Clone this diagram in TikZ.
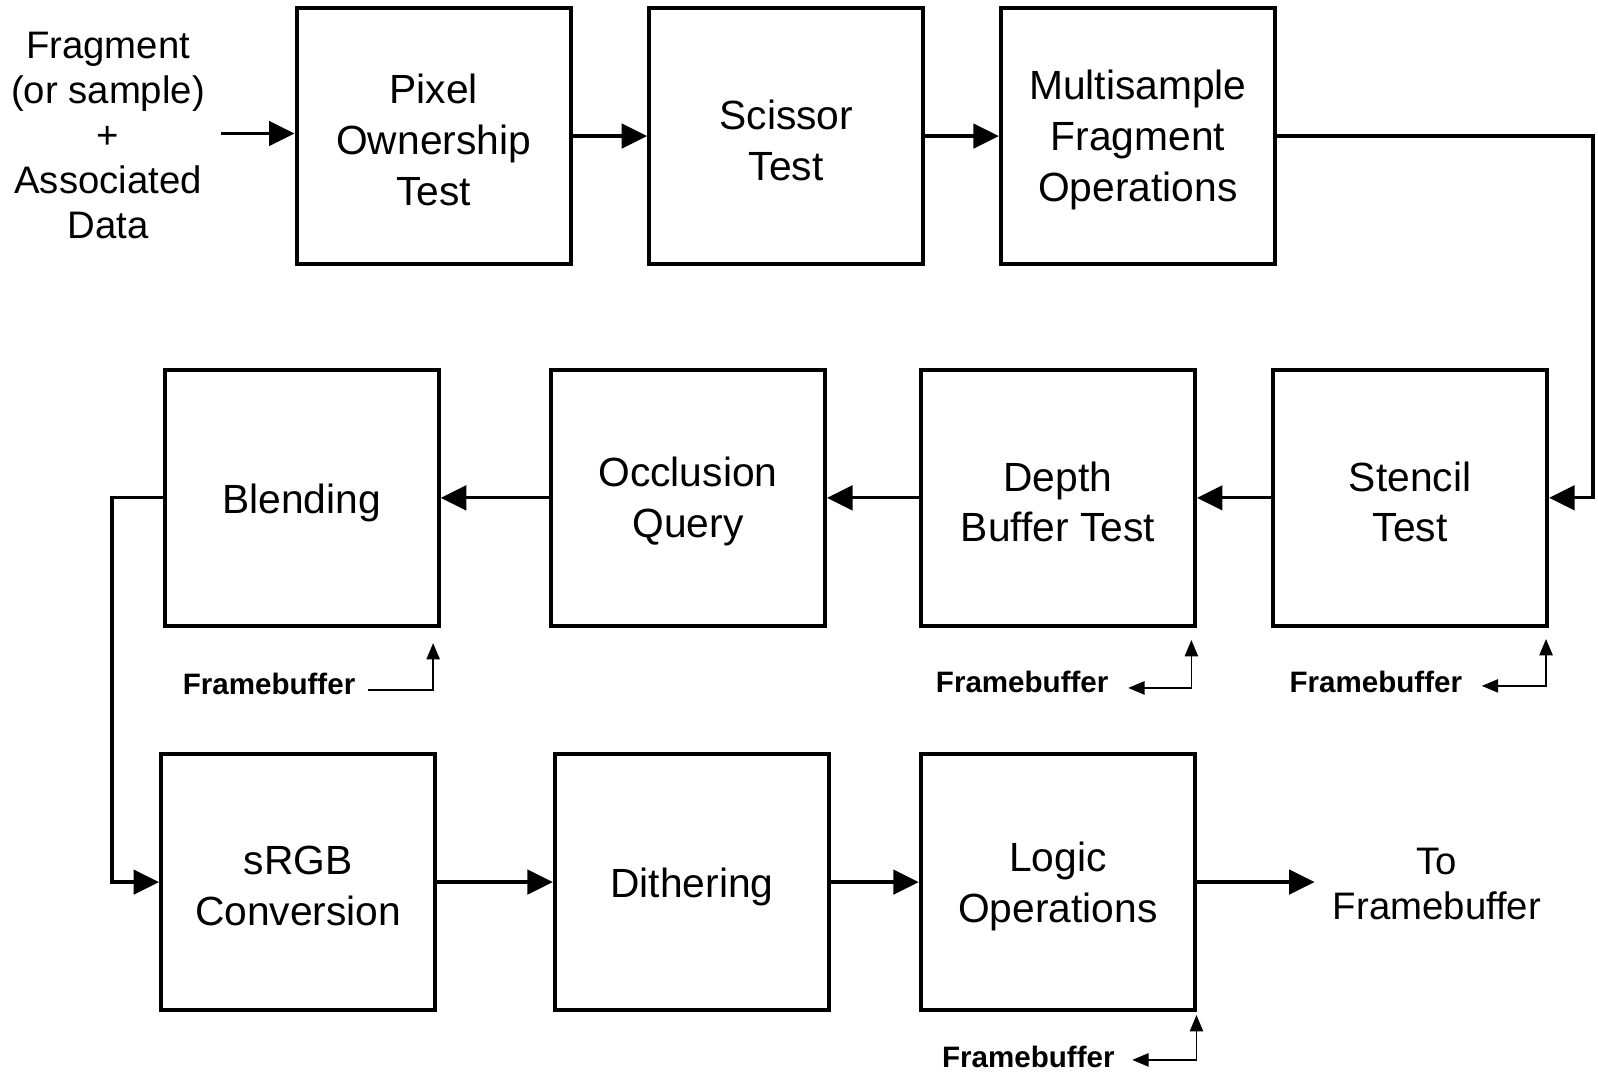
\documentclass[tikz,border=0pt]{standalone}
\usepackage{fontspec}
\setmainfont{Liberation Sans}
\usetikzlibrary{arrows.meta}
\tikzset{fbtip/.tip={Triangle[length=8pt,width=6.5pt]}}
\begin{document}
\begin{tikzpicture}[x=0.5pt,y=-0.5pt,
  stagebox/.style={draw,line width=2pt,minimum width=134.5pt,minimum height=125.5pt,inner sep=0pt},
  boxtext/.style={inner sep=0pt,align=center,font=\fontsize{20}{25}\selectfont},
  sidetext/.style={align=center,inner sep=0pt,font=\fontsize{18.8}{22}\selectfont},
  fbtext/.style={inner sep=0pt,font=\fontsize{14.5}{17}\selectfont\bfseries},
  conn/.style={line width=1.6pt,-{Triangle[length=12.5pt,width=12pt]}},
  fbline/.style={line width=0.8pt}
]
\useasboundingbox (0,0) rectangle (1568,1051);
% boxes
\node[stagebox] (pix) at (425.5,133.5) {};
\node[stagebox] (sci) at (771.5,133.5) {};
\node[stagebox] (msa) at (1116.5,133.5) {};
\node[stagebox] (sten) at (1383.5,488.5) {};
\node[stagebox] (dep) at (1038,488.5) {};
\node[stagebox] (occ) at (675,488.5) {};
\node[stagebox] (blend) at (296,488.5) {};
\node[stagebox] (srgb) at (292.5,865.5) {};
\node[stagebox] (dith) at (679,865.5) {};
\node[stagebox] (logic) at (1038,865.5) {};
% box texts
\node[boxtext] (pixt) at ([yshift=-2pt]pix.center) {Pixel\\Ownership\\Test};
\node[boxtext] (scit) at ([yshift=-2pt]sci.center) {Scissor\\Test};
\node[boxtext] (msat) at ([yshift=-2pt]msa.center) {Multisample\\Fragment\\Operations};
\node[boxtext] (stent) at ([yshift=-2pt]sten.center) {Stencil\\Test};
\node[boxtext] (dept) at ([yshift=-2pt]dep.center) {Depth\\Buffer Test};
\node[boxtext] (occt) at ([yshift=-2pt]occ.center) {Occlusion\\Query};
\node[boxtext] (blendt) at ([yshift=-2.5pt]blend.center) {Blending};
\node[boxtext] (srgbt) at ([yshift=-2pt]srgb.center) {sRGB\\Conversion};
\node[boxtext] (ditht) at ([yshift=-2.5pt]dith.center) {Dithering};
\node[boxtext] (logict) at ([yshift=-2pt]logic.center) {Logic\\Operations};
% side texts
\node[sidetext] (input) at (106,133) {Fragment\\(or sample)\\+\\Associated\\Data};
\node[sidetext] (out) at (1410,867) {To\\Framebuffer};
% coordinates
\coordinate (instart) at (217,131);
\coordinate (rx) at (1563,300);
\coordinate (lx) at (110,700);
\coordinate (outtip) at (1290,865.5);
% connectors
\draw[conn] (instart) -- (instart -| pix.west);
\draw[conn] (pix.east) -- (sci.west);
\draw[conn] (sci.east) -- (msa.west);
\draw[conn] (msa.east) -| (rx) |- (sten.east);
\draw[conn] (sten.west) -- (dep.east);
\draw[conn] (dep.west) -- (occ.east);
\draw[conn] (occ.west) -- (blend.east);
\draw[conn] (blend.west) -| (lx) |- (srgb.west);
\draw[conn] (srgb.east) -- (dith.west);
\draw[conn] (dith.east) -- (logic.west);
\draw[conn] (logic.east) -- (outtip);
% framebuffer labels
\node[fbtext,anchor=base east] (fb1) at (349,681) {Framebuffer};
\node[fbtext,anchor=base east] (fb2) at (1088,679) {Framebuffer};
\node[fbtext,anchor=base east] (fb3) at (1435,679) {Framebuffer};
\node[fbtext,anchor=base east] (fb4) at (1094,1047) {Framebuffer};
\coordinate (fb1a) at (361,677);
\coordinate (fb1b) at (425,631);
\coordinate (fb2a) at (1107,675);
\coordinate (fb2b) at (1169,628);
\coordinate (fb3a) at (1454,673);
\coordinate (fb3b) at (1517,627);
\coordinate (fb4a) at (1111,1040);
\coordinate (fb4b) at (1174,996);
\draw[fbline,-fbtip] (fb1a) -| (fb1b);
\draw[fbline,fbtip-fbtip] (fb2a) -| (fb2b);
\draw[fbline,fbtip-fbtip] (fb3a) -| (fb3b);
\draw[fbline,fbtip-fbtip] (fb4a) -| (fb4b);
\end{tikzpicture}
\end{document}
